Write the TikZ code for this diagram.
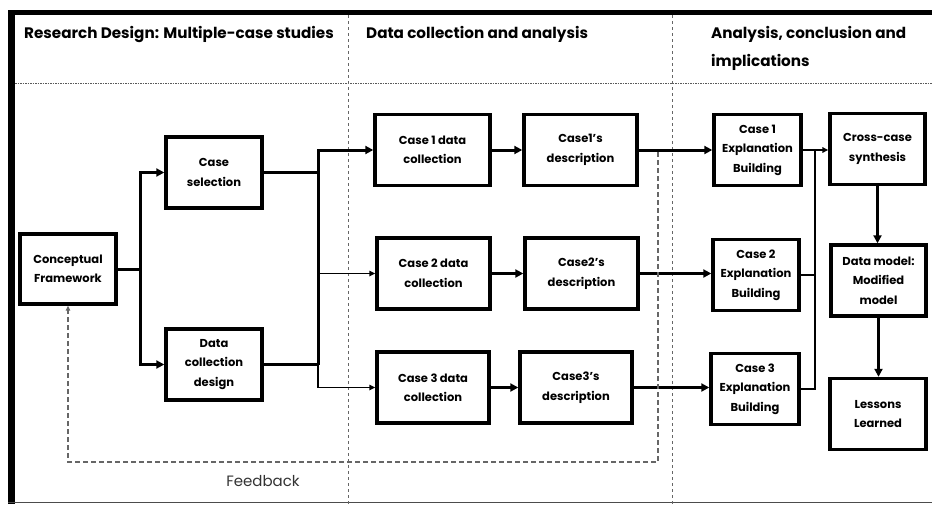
\documentclass[tikz,border=0pt]{standalone}
\usepackage{fontspec}
\setmainfont{Poppins}
\usetikzlibrary{arrows.meta}
\begin{document}
\begin{tikzpicture}[x=1pt,y=-1pt,
  box/.style={draw=black,line width=3.4pt,inner sep=0pt,align=center,
    minimum height=71pt,font=\bfseries\fontsize{11.5}{19.5}\selectfont},
  thk/.style={line width=3pt},
  med/.style={line width=2pt},
  thn/.style={line width=1.4pt},
  bigtip/.style={-{Triangle[length=8pt,width=8pt]}},
  smalltip/.style={-{Triangle[length=6pt,width=5.5pt]}},
  hdr/.style={anchor=base west,inner sep=0pt,font=\bfseries\fontsize{15.2}{28}\selectfont},
  sepline/.style={draw=black!60,line width=0.9pt,dash pattern=on 3pt off 3pt},
  hline/.style={draw=black!65,line width=1pt,dash pattern=on 1.5pt off 1pt},
  fbline/.style={draw=black!60,line width=1.3pt,dash pattern=on 5pt off 3pt},
]
\useasboundingbox (0,0) rectangle (932,504);

% frame of the figure
\fill[black] (8,9.5) rectangle (932,15);
\fill[black] (8,9.5) rectangle (14.5,504);
\draw[black!70,line width=1.5pt] (8,502.5) -- (932,502.5);

% column separators and header rule
\draw[hline] (15,83) -- (932,83);
\draw[sepline] (348,15) -- (348,504);
\draw[sepline] (672,15) -- (672,504);

% column headings
\node[hdr] (h1) at (24,38) {Research Design: Multiple-case studies};
\node[hdr] (h2) at (366,38) {Data collection and analysis};
\node[hdr] (h3) at (711,38) {Analysis, conclusion and};
\node[hdr] (h4) at (711,66) {implications};

% research design column
\node[box,minimum width=96pt,minimum height=70pt] (cf) at (68,269) {Conceptual\\Framework};
\node[box,minimum width=96pt] (cs) at (214,172.5) {Case\\selection};
\node[box,minimum width=96pt] (dcd) at (214,364.5) {Data\\collection\\design};

% data collection column
\node[box,minimum width=115pt] (c1d) at (432.5,150) {Case 1 data\\collection};
\node[box,minimum width=113pt] (c2d) at (433.5,273.5) {Case 2 data\\collection};
\node[box,minimum width=112pt] (c3d) at (433,387.5) {Case 3 data\\collection};
\node[box,minimum width=113pt] (c1s) at (580.5,150) {Case1's\\description};
\node[box,minimum width=113pt] (c2s) at (581.5,273.5) {Case2's\\description};
\node[box,minimum width=112pt] (c3s) at (576,387.5) {Case3's\\description};

% analysis column
\node[box,minimum width=87pt] (eb1) at (757.5,150) {Case 1\\Explanation\\Building};
\node[box,minimum width=86pt] (eb2) at (756,275) {Case 2\\Explanation\\Building};
\node[box,minimum width=88pt] (eb3) at (755,389) {Case 3\\Explanation\\Building};
\node[box,minimum width=95pt] (ccs) at (877.5,149) {Cross-case\\synthesis};
\node[box,minimum width=95pt] (dm) at (878.5,280.5) {Data model:\\Modified\\model};
\node[box,minimum width=96pt] (ll) at (878,414) {Lessons\\Learned};

% junction columns
\coordinate (j1) at (140,0);
\coordinate (j2) at (318,0);
\coordinate (j3) at (815,0);

% framework to design steps
\draw[thk] (cf.east) -- (cf.east -| j1);
\draw[thk,bigtip] (cf.east -| j1) |- (cs.west);
\draw[thk,bigtip] (cf.east -| j1) |- (dcd.west);

% design steps to the three cases
\draw[thk] (cs.east) -- (cs.east -| j2);
\draw[thk] (dcd.east) -- (dcd.east -| j2);
\draw[thk,bigtip] (dcd.east -| j2) |- (c1d.west);
\draw[thn,smalltip] (j2 |- c2d.west) -- (c2d.west);
\draw[thn,smalltip] (dcd.east -| j2) |- (c3d.west);

% collection to description
\draw[thk,bigtip] (c1d.east) -- (c1s.west);
\draw[thk,bigtip] (c2d.east) -- (c2s.west);
\draw[thk,bigtip] (c3d.east) -- (c3s.west);

% description to explanation building
\draw[thk,bigtip] (c1s.east) -- (c1s.east -| eb1.west);
\draw[thk,bigtip] (c2s.east) -- (c2s.east -| eb2.west);
\draw[thk,bigtip] (c3s.east) -- (c3s.east -| eb3.west);

% explanation building to synthesis
\draw[med,smalltip] (eb1.east) -- (eb1.east -| ccs.west);
\draw[med] (eb1.east -| j3) |- (eb3.east);
\draw[med] (eb2.east) -- (eb2.east -| j3);
\draw[thk,bigtip] (ccs.south) -- (ccs.south |- dm.north);
\draw[thk,bigtip] (dm.south) -- (dm.south |- ll.north);

% feedback loop
\coordinate (fbtop) at (658,152);
\coordinate (fbcorner) at (658,462);
\draw[fbline,-{Triangle[length=5pt,width=4.5pt]}] (fbtop) -- (fbcorner) -| (cf.south);
\node[font=\fontsize{15}{18}\selectfont,text=black!80,inner sep=0pt] (fb) at (263,481) {Feedback};
\end{tikzpicture}
\end{document}
